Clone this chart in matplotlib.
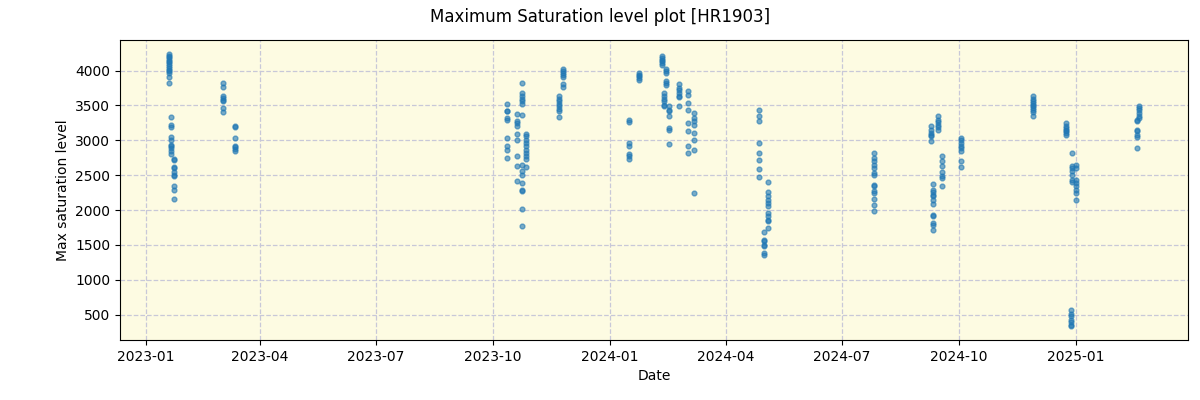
import matplotlib
matplotlib.use("Agg")
import matplotlib.pyplot as plt
import matplotlib.dates as mdates
import pandas as pd

# observation nights and the max saturation levels read on each night
obs_dates = [
    "2023-01-19", "2023-01-21", "2023-01-23", "2023-03-03", "2023-03-12",
    "2023-10-12", "2023-10-20", "2023-10-24", "2023-10-27", "2023-11-22", "2023-11-25",
    "2024-01-16", "2024-01-24", "2024-02-11", "2024-02-12", "2024-02-14", "2024-02-16",
    "2024-02-24", "2024-03-02", "2024-03-07", "2024-04-27", "2024-05-01", "2024-05-04",
    "2024-07-26", "2024-09-09", "2024-09-11", "2024-09-15", "2024-09-18", "2024-10-03",
    "2024-11-28", "2024-12-24", "2024-12-28", "2024-12-29", "2025-01-01",
    "2025-02-18", "2025-02-20",
]
obs_values = [
    [4244, 4215, 4196, 4168, 4144, 4120, 4101, 4072, 4038, 4015, 3991, 3967, 3909, 3823],
    [3335, 3225, 3192, 3048, 3010, 2938, 2924, 2891, 2843, 2809],
    [2733, 2714, 2613, 2604, 2541, 2508, 2484, 2350, 2293, 2159],
    [3823, 3766, 3641, 3608, 3584, 3560, 3464, 3402],
    [3211, 3187, 3034, 2924, 2900, 2876, 2843],
    [3522, 3426, 3417, 3321, 3297, 3034, 2914, 2867, 2747],
    [3378, 3273, 3249, 3201, 3091, 3010, 2771, 2627, 2412],
    [3823, 3680, 3632, 3594, 3560, 3527, 3364, 2651, 2556, 2508, 2388, 2293, 2269, 2015, 1776],
    [3091, 3058, 3010, 2962, 2914, 2867, 2819, 2771, 2733, 2618],
    [3641, 3594, 3560, 3527, 3488, 3450, 3417, 3335],
    [4024, 3991, 3967, 3943, 3909, 3814, 3766],
    [3297, 3259, 2962, 2914, 2804, 2771, 2733],
    [3967, 3943, 3919, 3895, 3861],
    [4206, 4182, 4158, 4134, 4110, 4086],
    [3680, 3632, 3594, 3560, 3512, 3488],
    [4024, 3991, 3967, 3847, 3823, 3799],
    [3488, 3441, 3417, 3345, 3177, 3144, 2948],
    [3814, 3751, 3718, 3680, 3641, 3622, 3498],
    [3704, 3656, 3536, 3431, 3249, 3130, 2924, 2819],
    [3393, 3321, 3273, 3225, 3106, 3010, 2867, 2245],
    [3441, 3345, 3273, 2962, 2819, 2723, 2589, 2474],
    [1680, 1575, 1551, 1503, 1479, 1384, 1360],
    [2403, 2259, 2206, 2149, 2101, 2063, 1958, 1910, 1862, 1838, 1743],
    [2819, 2747, 2699, 2651, 2603, 2532, 2508, 2364, 2340, 2269, 2245, 2159, 2077, 1982],
    [3211, 3154, 3106, 3082, 3058, 2996],
    [2379, 2293, 2254, 2221, 2197, 2149, 2092, 1934, 1910, 1814, 1790, 1709],
    [3345, 3297, 3259, 3225, 3192, 3154],
    [2771, 2699, 2637, 2541, 2484, 2460, 2350],
    [3034, 3010, 2962, 2924, 2891, 2843, 2699, 2618],
    [3632, 3594, 3560, 3536, 3512, 3488, 3464, 3441, 3402, 3354],
    [3249, 3211, 3177, 3154, 3130, 3106, 3072],
    [561, 513, 475, 427, 389, 355, 331],
    [2819, 2637, 2604, 2556, 2508, 2436, 2398],
    [2651, 2604, 2436, 2388, 2340, 2293, 2245, 2149],
    [3297, 3273, 3154, 3130, 3082, 3048, 2891],
    [3498, 3464, 3431, 3393, 3354, 3321],
]

# flatten into one table
rows = []
for d, vals in zip(obs_dates, obs_values):
    for v in vals:
        rows.append((pd.Timestamp(d), v))
df = pd.DataFrame(rows, columns=["date", "value"])

fig, ax = plt.subplots(figsize=(12, 4), dpi=100)
fig.subplots_adjust(left=0.1, right=0.99, top=0.9, bottom=0.15)

ax.set_facecolor("#fdfbe2")
ax.scatter(df["date"], df["value"], s=12, alpha=0.6, color="C0")
ax.grid(True, linestyle="--", color="#c8c8d8", linewidth=0.9)
ax.set_axisbelow(True)

ax.xaxis.set_major_locator(mdates.MonthLocator(bymonth=[1, 4, 7, 10]))
ax.xaxis.set_major_formatter(mdates.DateFormatter("%Y-%m"))

ax.set_xlabel("Date")
ax.set_ylabel("Max saturation level")
fig.suptitle("Maximum Saturation level plot [HR1903]")

fig.savefig("out.png")
